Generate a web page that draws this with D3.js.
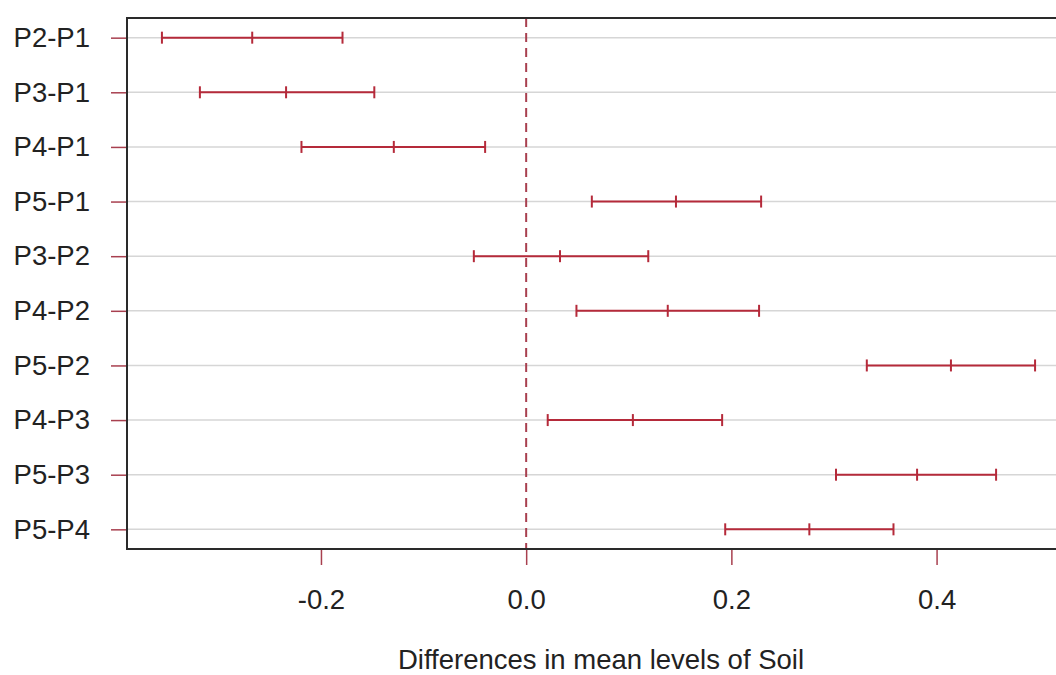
<!DOCTYPE html>
<html>
<head>
<meta charset="utf-8">
<script src="https://cdn.jsdelivr.net/npm/d3@7"></script>
<style>
  html, body { margin: 0; padding: 0; background: #fff; }
  #chart { width: 1056px; height: 675px; overflow: hidden; }
  svg { display: block; font-family: "Liberation Sans", Arial, sans-serif; }
</style>
</head>
<body>
<div id="chart"></div>
<script>
// Tukey HSD intervals (top row first)
const comparisons = ['P2-P1', 'P3-P1', 'P4-P1', 'P5-P1', 'P3-P2', 'P4-P2', 'P5-P2', 'P4-P3', 'P5-P3', 'P5-P4'];
const lwr  = [-0.355, -0.318, -0.219, 0.064, -0.051, 0.049, 0.332, 0.021, 0.302, 0.194];
const diff = [-0.267, -0.234, -0.129, 0.146,  0.033, 0.138, 0.414, 0.104, 0.381, 0.276];
const upr  = [-0.179, -0.148, -0.040, 0.229,  0.119, 0.227, 0.496, 0.191, 0.458, 0.358];
const xTicks = [-0.2, 0.0, 0.2, 0.4];
const xLabel = 'Differences in mean levels of Soil';

const width = 1056, height = 675;
const box = { left: 127, top: 18, right: 1070, bottom: 549 };

const rows = comparisons.map((c, i) => ({ name: c, lwr: lwr[i], diff: diff[i], upr: upr[i] }));

const svg = d3.select('#chart').append('svg')
  .attr('width', width)
  .attr('height', height);

// R-style extended range (4% on each side)
const lo = d3.min(lwr), hi = d3.max(upr);
const pad = (hi - lo) * 0.04;
const x = d3.scaleLinear()
  .domain([lo - pad, hi + pad])
  .range([box.left, box.right]);

const y = d3.scalePoint()
  .domain(comparisons)
  .range([box.top, box.bottom])
  .padding(0.36);

const barColor = '#b52a3a';
const tickColor = '#a8404f';
const fontSize = 27.5;

// gridlines
svg.append('g')
  .selectAll('line')
  .data(comparisons)
  .join('line')
    .attr('x1', box.left)
    .attr('x2', box.right)
    .attr('y1', d => y(d))
    .attr('y2', d => y(d))
    .attr('stroke', '#d6d6d6')
    .attr('stroke-width', 1.5);

// zero reference line
svg.append('line')
  .attr('x1', x(0)).attr('x2', x(0))
  .attr('y1', box.top).attr('y2', box.bottom)
  .attr('stroke', '#a8404f')
  .attr('stroke-width', 2)
  .attr('stroke-dasharray', '9,6');

// intervals
const cap = 6;
const g = svg.append('g').selectAll('g')
  .data(rows)
  .join('g')
    .attr('transform', d => `translate(0,${y(d.name)})`);

g.append('line')
  .attr('x1', d => x(d.lwr))
  .attr('x2', d => x(d.upr))
  .attr('stroke', barColor)
  .attr('stroke-width', 2);

['lwr', 'diff', 'upr'].forEach(k => {
  g.append('line')
    .attr('x1', d => x(d[k]))
    .attr('x2', d => x(d[k]))
    .attr('y1', -cap)
    .attr('y2', cap)
    .attr('stroke', barColor)
    .attr('stroke-width', 2);
});

// axes
const xAxis = svg.append('g')
  .attr('transform', `translate(0,${box.bottom})`)
  .call(d3.axisBottom(x)
    .tickValues(xTicks)
    .tickFormat(d => d3.format('.1f')(d).replace('\u2212', '-'))
    .tickSize(16)
    .tickSizeOuter(0)
    .tickPadding(24));
xAxis.select('.domain').remove();

const yAxis = svg.append('g')
  .attr('transform', `translate(${box.left},0)`)
  .call(d3.axisLeft(y)
    .tickSize(16)
    .tickSizeOuter(0)
    .tickPadding(21));
yAxis.select('.domain').remove();

[xAxis, yAxis].forEach(a => {
  a.selectAll('.tick line')
    .attr('stroke', tickColor)
    .attr('stroke-width', 1.5);
  a.selectAll('.tick text')
    .attr('fill', '#222')
    .style('font-size', fontSize + 'px');
});

// plot box
svg.append('rect')
  .attr('x', box.left)
  .attr('y', box.top)
  .attr('width', box.right - box.left)
  .attr('height', box.bottom - box.top)
  .attr('fill', 'none')
  .attr('stroke', '#2a2a2a')
  .attr('stroke-width', 2);

// axis title
svg.append('text')
  .attr('x', 601)
  .attr('y', 669)
  .attr('text-anchor', 'middle')
  .attr('fill', '#222')
  .style('font-size', fontSize + 'px')
  .text(xLabel);
</script>
</body>
</html>
